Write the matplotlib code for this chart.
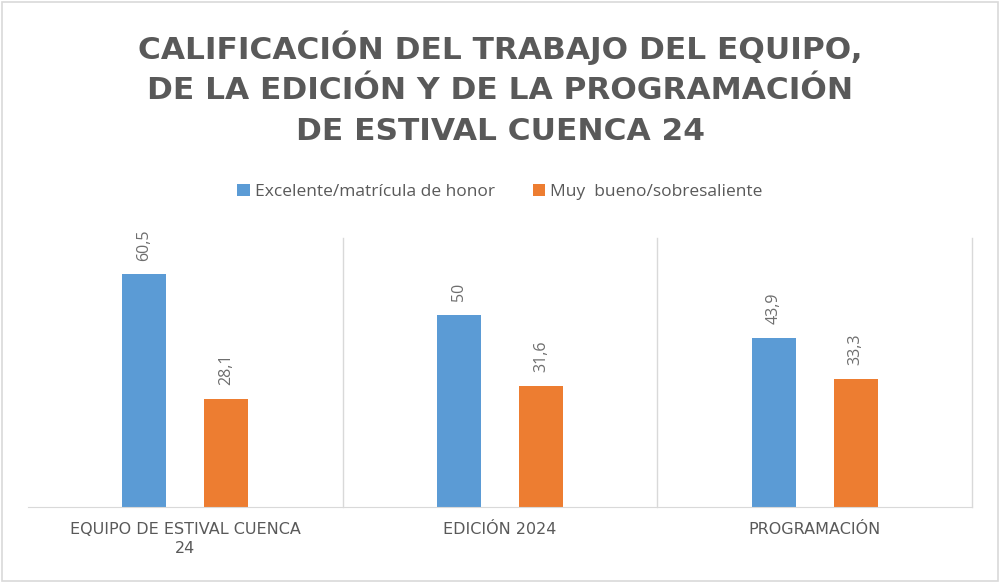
import numpy as np
import matplotlib
matplotlib.use("Agg")
import matplotlib.pyplot as plt
from matplotlib.patches import Rectangle

categories = ["EQUIPO DE ESTIVAL CUENCA\n24", "EDICIÓN 2024", "PROGRAMACIÓN"]
series_names = ["Excelente/matrícula de honor", "Muy  bueno/sobresaliente"]
excelente = [60.5, 50, 43.9]
muy_bueno = [28.1, 31.6, 33.3]
value_labels = [["60,5", "50", "43,9"], ["28,1", "31,6", "33,3"]]

blue = "#5b9bd5"
orange = "#ed7d31"
grey = "#595959"

plt.rcParams['font.family'] = ['Open Sans', 'DejaVu Sans']

fig = plt.figure(figsize=(10, 5.83), dpi=100)
fig.patches.append(Rectangle((0.002, 0.003), 0.996, 0.994, transform=fig.transFigure,
                             fill=False, edgecolor="#d9d9d9", lw=1.2))

ax = fig.add_axes([0.028, 0.1304, 0.944, 0.4614])
x = np.arange(len(categories))
w = 0.14
off = 0.13
b1 = ax.bar(x - off, excelente, w, color=blue, label=series_names[0])
b2 = ax.bar(x + off, muy_bueno, w, color=orange, label=series_names[1])

for bars, labs in zip([b1, b2], value_labels):
    for b, t in zip(bars, labs):
        ax.annotate(t, (b.get_x() + b.get_width() / 2, b.get_height()),
                    xytext=(0, 10), textcoords="offset points", rotation=90,
                    ha="center", va="bottom", fontsize=11.5, color="#6e6e6e")

ax.set_xlim(-0.5, 2.5)
ax.set_ylim(0, 70)
ax.set_yticks([])
ax.set_xticks(x)
ax.set_xticklabels(categories, fontsize=11.5, color=grey, linespacing=1.3,
                   family="DejaVu Sans")
ax.tick_params(axis="x", length=0, pad=11)
for xs in [0.5, 1.5, 2.5]:
    ax.axvline(xs, color="#d9d9d9", lw=1, clip_on=False)
for s in ["top", "right", "left"]:
    ax.spines[s].set_visible(False)
ax.spines["bottom"].set_color("#d9d9d9")

fig.text(0.5, 0.849, "CALIFICACIÓN DEL TRABAJO DEL EQUIPO,\nDE LA EDICIÓN Y DE LA PROGRAMACIÓN\nDE ESTIVAL CUENCA 24",
         ha="center", va="center", fontsize=22.5, fontweight="bold", color=grey,
         linespacing=1.5, family="DejaVu Sans")

fig.legend(handles=[b1, b2], loc="center", bbox_to_anchor=(0.5, 0.671), ncol=2,
           frameon=False, fontsize=12.5, handlelength=0.7, handleheight=0.7,
           handletextpad=0.3, columnspacing=2.2, labelcolor=grey)

plt.savefig("out.png", dpi=100)
